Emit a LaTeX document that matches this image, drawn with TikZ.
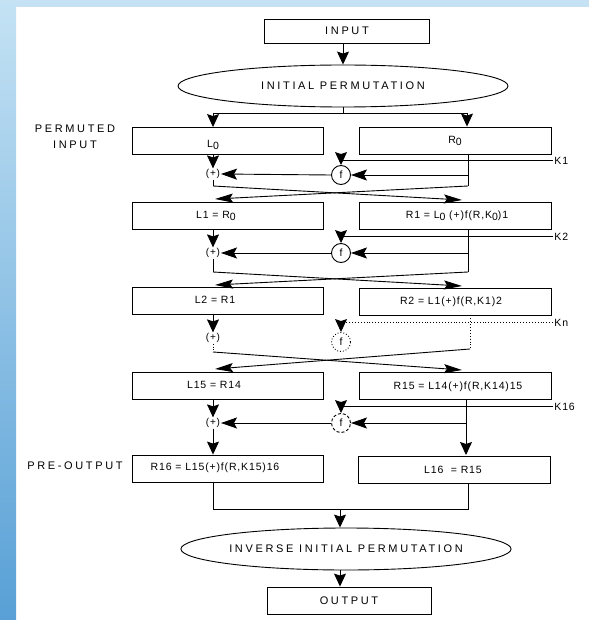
\documentclass[tikz,border=0pt]{standalone}
\usepackage{fontspec}
\setmainfont[LetterSpace=8]{Liberation Sans}
\newfontfamily\capsf[LetterSpace=24]{Liberation Sans}
\usetikzlibrary{arrows.meta,shapes.geometric}
\definecolor{bgA}{RGB}{196,226,244}
\definecolor{bgB}{RGB}{88,160,214}
\begin{document}
\begin{tikzpicture}[x=1pt,y=-1pt,line width=0.9pt,
  box/.style={draw,minimum height=27pt,inner sep=0pt},
  lbox/.style={box,minimum width=191pt},
  rbox/.style={box,minimum width=192pt},
  txt/.style={inner sep=1pt,font=\fontsize{10.5}{12}\selectfont},
  captxt/.style={inner sep=1pt,font=\fontsize{11}{13}\selectfont\capsf},
  ell/.style={draw,ellipse,inner sep=0pt,minimum width=330pt,minimum height=42pt,font=\fontsize{11}{13}\selectfont\capsf},
  plus/.style={inner sep=0.5pt,font=\fontsize{10}{12}\selectfont},
  fc/.style={draw,circle,minimum size=19pt,inner sep=0pt,font=\fontsize{10.5}{12}\selectfont},
  klab/.style={inner sep=1pt,anchor=west,font=\fontsize{10.5}{12}\selectfont},
  arr/.style={-{Stealth[length=13pt,width=12pt,inset=2pt]}},
  harr/.style={-{Stealth[length=16pt,width=11pt,inset=3pt]}},
  xarr/.style={-{Stealth[length=18pt,width=9pt,inset=3pt]}}]
% background
\useasboundingbox (0,0) rectangle (589,620);
\fill[white] (0,0) rectangle (589,620);
\shade[top color=bgA,bottom color=bgB] (0,0) rectangle (16,620);
\fill[bgA] (16,0) rectangle (589,7);
% top
\node[box,minimum width=165pt,minimum height=24pt,font=\fontsize{11}{13}\selectfont\capsf] (in) at (347,31) {INPUT};
\node[ell] (ip) at (343,86) {INITIAL PERMUTATION};
\coordinate (sp) at (343,113);
\coordinate (spl) at (213,113);
\coordinate (spr) at (467,113);
\draw[arr] (in.south -| ip.north) -- (ip.north);
\draw (ip.south) -- (sp);
\draw (spl) -- (spr);
% side labels
\node[captxt,align=center] (perm) at (75,137) {PERMUTED\\[3pt]INPUT};
\node[captxt] (pre) at (75,466) {PRE-OUTPUT};
% row 0
\node[lbox] (L0) at (227.5,141) {};
\node[rbox] (R0) at (455,140.5) {};
\node[txt] (L0t) at (213,145) {L\raisebox{-1.5pt}{0}};
\node[txt] (R0t) at (455,141) {R\raisebox{-1.5pt}{0}};
\draw[arr] (spl) -- (L0.north -| spl);
\draw[arr] (spr) -- (R0.north -| spr);
% round 1
\node[plus] (p1) at (213,174) {(+)};
\node[fc] (f1) at (341,175) {f};
\node[klab] (K1) at (553,161) {K1};
\coordinate (r1) at (468,186);
\coordinate (l1) at (213,186);
\coordinate (t1r) at (462,200);
\coordinate (t1l) at (215,199);
\draw[arr] (K1.west |- 0,160) -| (f1.north);
\draw (R0.south -| r1) -- (r1);
\draw[harr] (r1 |- f1) -- (f1.east);
\draw[harr] (f1.west) -- (p1.east);
\draw[arr] (L0.south -| p1) -- (p1.north);
\draw (p1.south) -- (l1);
\draw[xarr] (l1) -- (t1r);
\draw[xarr] (r1) -- (t1l);
% row 1
\node[lbox] (L1) at (227.5,216) {};
\node[rbox] (R1) at (455,215.5) {};
\node[txt] (L1t) at (216,216) {L1 = R\raisebox{-1.5pt}{0}};
\node[txt] (R1t) at (457,216) {R1 = L\raisebox{-1.5pt}{0} (+)f(R,K\raisebox{-1.5pt}{0})1};
% round 2
\node[plus] (p2) at (213,253) {(+)};
\node[fc] (f2) at (341,253) {f};
\node[klab] (K2) at (553,237) {K2};
\coordinate (r2) at (468,272);
\coordinate (l2) at (213,272);
\coordinate (t2r) at (462,286);
\coordinate (t2l) at (215,285);
\draw[arr] (K2.west |- 0,236) -| (f2.north);
\draw (R1.south -| r2) -- (r2);
\draw[harr] (r2 |- f2) -- (f2.east);
\draw[harr] (f2.west) -- (p2.east);
\draw[arr] (L1.south -| p2) -- (p2.north);
\draw (p2.south) -- (l2);
\draw[xarr] (l2) -- (t2r);
\draw[xarr] (r2) -- (t2l);
% row 2
\node[lbox] (L2) at (227.5,300.5) {};
\node[rbox] (R2) at (455,301.5) {};
\node[txt] (L2t) at (215,300) {L2 = R1};
\node[txt] (R2t) at (451,302) {R2 = L1(+)f(R,K1)2};
% round n
\node[plus] (pn) at (213,338) {(+)};
\node[fc,dotted] (fn) at (341,342) {f};
\node[klab] (Kn) at (553,323) {Kn};
\coordinate (rn) at (470,349);
\coordinate (ln) at (213,352);
\coordinate (tnr) at (462,370);
\coordinate (tnl) at (215,369);
\draw[arr,dotted] (Kn.west |- 0,322) -| (fn.north);
\draw[dotted] (R2.south -| rn) -- (rn);
\draw[arr] (L2.south -| pn) -- (pn.north);
\draw[dotted] (pn.south) -- (ln);
\draw[xarr] (ln) -- (tnr);
\draw[xarr] (rn) -- (tnl);
% row 15
\node[lbox] (L15) at (227.5,385.5) {};
\node[rbox] (R15) at (455.5,385.5) {};
\node[txt] (L15t) at (214,385) {L15 = R14};
\node[txt] (R15t) at (458,387) {R15 = L14(+)f(R,K14)15};
% round 16
\node[plus] (p16) at (213,423) {(+)};
\node[fc,densely dashed] (f16) at (341,423) {f};
\node[klab] (K16) at (553,407) {K16};
\coordinate (r16) at (466,423);
\draw[arr] (K16.west |- 0,406) -| (f16.north);
\draw[arr] (R15.south -| r16) -- (r16 |- 0,455);
\draw[harr] (r16) -- (f16.east);
\draw[harr] (f16.west) -- (p16.east);
\draw[arr] (L15.south -| p16) -- (p16.north);
% row 16
\node[lbox] (R16) at (227.5,468.5) {};
\node[rbox] (L16) at (454,469.5) {};
\node[txt] (R16t) at (215,468) {R16 = L15(+)f(R,K15)16};
\node[txt] (L16t) at (453,470) {L16 \ = R15};
\draw[arr] (p16.south) -- (R16.north -| p16);
% bottom
\coordinate (jl) at (213,509);
\coordinate (jr) at (468,509);
\coordinate (j) at (340,509);
\draw (R16.south -| jl) -- (jl) -- (jr) -- (L16.south -| jr);
\node[ell,minimum width=328pt] (iip) at (346,549) {INVERSE INITIAL PERMUTATION};
\node[box,minimum width=164pt,font=\fontsize{11}{13}\selectfont\capsf] (out) at (349,600.5) {OUTPUT};
\draw[arr] (j) -- (iip.north -| j);
\draw[arr] (iip.south -| j) -- (out.north -| j);
\end{tikzpicture}
\end{document}
